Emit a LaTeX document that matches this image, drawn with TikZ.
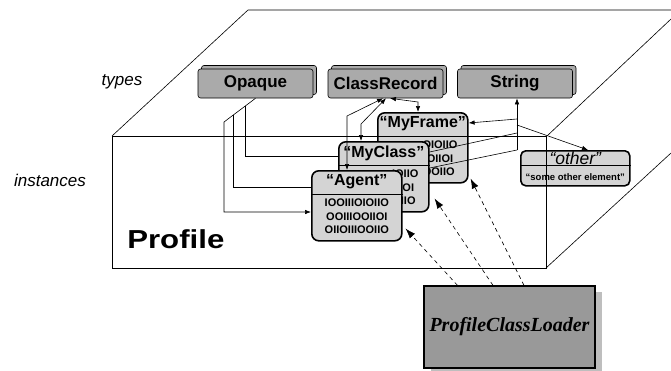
\documentclass[tikz,border=0pt]{standalone}
\usepackage{graphicx}
\usepackage{fontspec}
\setmainfont{Liberation Serif}
\setsansfont{Liberation Sans}
\usetikzlibrary{calc,shadows,arrows.meta}
\definecolor{typegray}{RGB}{170,170,170}
\definecolor{instgray}{RGB}{212,212,212}
\definecolor{loadgray}{RGB}{153,153,153}
\definecolor{shadegray}{RGB}{190,190,190}
\begin{document}
\begin{tikzpicture}[x=1pt,y=-1pt,line width=0.6pt,
  typebox/.style={draw, fill=typegray, rounded corners=2.5pt, line width=0.6pt,
    minimum width=115pt, minimum height=29pt, inner sep=0pt,
    font=\sffamily\bfseries\fontsize{17}{20}\selectfont,
    copy shadow={shadow xshift=3.5pt, shadow yshift=3.5pt, fill=typegray, draw=black, line width=0.6pt}},
  inst/.style={draw, fill=instgray, rounded corners=7pt, line width=1.6pt,
    minimum width=90pt, minimum height=70pt, inner sep=0pt, anchor=north west},
  sep/.style={line width=0.6pt},
  hdr/.style={font=\sffamily\bfseries\fontsize{16}{18}\selectfont, inner sep=0pt},
  bits/.style={font=\sffamily\bfseries\fontsize{11}{13.5}\selectfont, align=center, inner sep=0pt},
  bitrow/.style={font=\sffamily\bfseries\fontsize{11}{13.5}\selectfont, inner sep=0pt, anchor=east},
  lbl/.style={font=\sffamily\itshape\fontsize{17}{20}\selectfont, inner sep=0pt},
  conn/.style={line width=0.6pt},
  tip/.style={conn, -{Latex[length=6pt,width=4.5pt]}},
  tips/.style={conn, {Latex[length=6pt,width=4.5pt]}-{Latex[length=6pt,width=4.5pt]}},
  dasharrow/.style={line width=0.6pt, dash pattern=on 4pt off 3.5pt, -{Latex[length=10pt,width=7pt]}}
]
\useasboundingbox (0,0) rectangle (671,370);

% the profile box
\draw (112,136) -- (248,10) -- (671,10);
\draw (547,136) -- (671,19);
\draw (546,268) -- (671,153);
\draw (112,136) rectangle (546,268);

% labels
\node[lbl] (types) at (122,82) {types};
\node[lbl] (instances) at (50,180) {instances};
\node[anchor=base west, inner sep=0pt, font=\sffamily\bfseries\fontsize{26}{30}\selectfont] (profile) at (127,248) {\scalebox{1.2}[1]{Profile}};

% type nodes
\node[typebox] (opaque) at (255.5,83.5) {Opaque};
\node[typebox] (classrec) at (385.5,83.5) {ClassRecord};
\node[typebox] (string) at (515,83.5) {String};

% instance nodes (back to front)
\node[inst] (myframe) at (377,112) {};
\draw[sep] ($(myframe.north west)+(0,24)$) -- ($(myframe.north east)+(0,24)$);
\node[hdr] (myframename) at ($(myframe.north)+(0,12)$) {“MyFrame”};
\node[bitrow] (myframebitsa) at ($(myframe.north)+(34.9,33)$) {OIOIIO};
\node[bitrow] (myframebitsb) at ($(myframe.north)+(30.6,46.5)$) {OIIOI};
\node[bitrow] (myframebitsc) at ($(myframe.north)+(32.1,60)$) {OOIIO};

\node[inst] (myclass) at (338,141) {};
\draw[sep] ($(myclass.north west)+(0,24)$) -- ($(myclass.north east)+(0,24)$);
\node[hdr] (myclassname) at ($(myclass.north)+(0,12)$) {“MyClass”};
\node[bitrow] (myclassbitsa) at ($(myclass.north)+(34.9,33)$) {IOIIO};
\node[bitrow] (myclassbitsb) at ($(myclass.north)+(30.6,46.5)$) {OIIOI};
\node[bitrow] (myclassbitsc) at ($(myclass.north)+(32.1,60)$) {OIIO};

\node[inst] (agent) at (311,170) {};
\draw[sep] ($(agent.north west)+(0,24)$) -- ($(agent.north east)+(0,24)$);
\node[hdr] (agentname) at ($(agent.north)+(0,12)$) {“Agent”};
\node[bits] (agentbits) at ($(agent.north)+(0,46.5)$) {IOOIIIOIOIIO\\OOIIIOOIIOI\\OIIOIIIOOIIO};

\node[inst, minimum width=109pt, minimum height=35pt, rounded corners=5pt] (other) at (520,150) {};
\draw[sep] ($(other.north west)+(0,15)$) -- ($(other.north east)+(0,15)$);
\node[inner sep=0pt, font=\sffamily\itshape\fontsize{17.5}{19}\selectfont] (othername) at ($(other.north)+(0,8)$) {“other”};
\node[inner sep=0pt, font=\sffamily\bfseries\fontsize{9.5}{11}\selectfont] (othertext) at ($(other.north)+(0,27)$) {“some other element”};

% right edge of the front face, over the "other" node
\draw (546,136) -- (546,268);
\draw[line width=1pt] (546.5,145) -- (546.5,223);

% loader
\node[draw, fill=loadgray, line width=1.2pt, minimum width=171pt, minimum height=82pt,
  general shadow={shadow xshift=7pt, shadow yshift=-6pt, fill=shadegray},
  font=\rmfamily\bfseries\itshape\fontsize{20}{24}\selectfont] (loader) at (509.5,327) {ProfileClassLoader};

% connectors from Opaque
\coordinate (opbend) at (224,122);
\coordinate (opb) at ($(opaque.south)!0.714!(opbend)$);
\coordinate (opc) at ($(opaque.south)!0.333!(opbend)$);
\draw[tip] (opaque.south) -- (opbend) |- (agent.west |- 0,212);
\draw[conn] (opb) |- (agent.west |- 0,187);
\draw[conn] (opc) |- (myclass.west |- 0,156);

% connectors from ClassRecord
\draw[tips] ($(classrec.south)+(-2.5,0)$) -- (347,116) -- (347,0 |- agent.north);
\draw[tips] ($(classrec.south)+(0.5,0)$) -- (361,124) -- (361,0 |- myclass.north);
\draw[tips] ($(classrec.south)+(4.5,0)$) -- (418,102) -- (418,0 |- myframe.north);

% connectors from String
\coordinate (sv) at (517,150);
\draw[tip] (sv) -- ($(string.south)+(2,0)$);
\draw[tip] (517,119) -- (myframe.east |- 0,123);
\draw[tip] (517,125) -- (588,0 |- other.north);
\draw[conn] (517,133) -- (myclass.east |- 0,152);
\draw[conn] (sv) -- (myclass.east |- 0,168);

% loader arrows
\draw[dasharrow] ($(loader.north)+(-52,0)$) -- ($(agent.south east)+(3,-13)$);
\draw[dasharrow] ($(loader.north)+(-16.5,0)$) -- ($(myclass.south east)+(5,-14)$);
\draw[dasharrow] ($(loader.north)+(14.5,0)$) -- ($(myframe.south east)+(2,-5)$);
\end{tikzpicture}
\end{document}
